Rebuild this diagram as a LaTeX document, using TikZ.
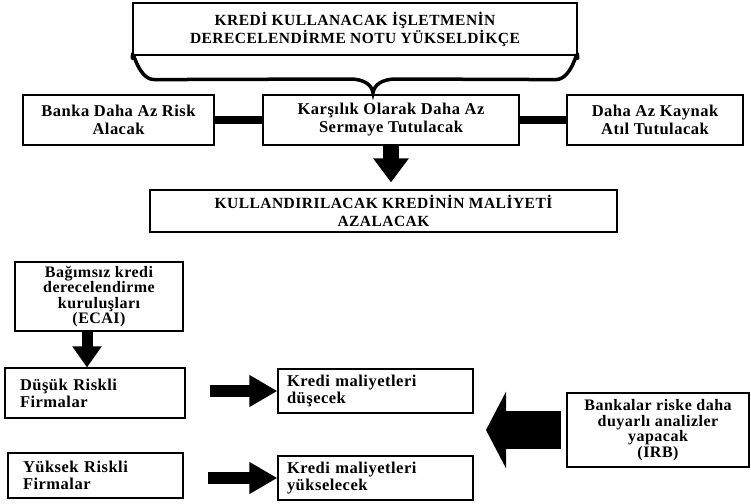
\documentclass[tikz,border=0pt]{standalone}
\usepackage{fontspec}
\setmainfont{Liberation Serif}[LetterSpace=3]
\usepackage{tikz}
\usetikzlibrary{arrows.meta}
\tikzstyle{block} = [rectangle, draw, line width=1.2pt, inner sep=0pt, align=center,
    font=\fontsize{16.5}{18}\selectfont\bfseries]
\tikzstyle{capsblock} = [block, font=\fontsize{15.5}{18}\selectfont\bfseries]
\tikzstyle{smallblock} = [block, font=\fontsize{16}{15.5}\selectfont\bfseries]
\tikzstyle{leftblock} = [block, align=left, font=\fontsize{16.5}{17}\selectfont\bfseries]
\tikzstyle{bar} = [draw, line width=8pt]
\tikzstyle{brace} = [draw, line width=3.5pt, line cap=round]
\tikzstyle{arrow} = [draw, line width=16pt, -{Triangle[width=34pt,length=24pt]}]
\tikzstyle{thinarrow} = [draw, line width=12pt, -{Triangle[width=30pt,length=28pt]}]

\begin{document}
\begin{tikzpicture}[x=1pt, y=-1pt]
			\useasboundingbox (0,0) rectangle (751,503);
			% Place nodes
			\node [capsblock, minimum width=444pt, minimum height=52pt] (notu) at (355,29) {KRED\.I KULLANACAK \.IŞLETMEN\.IN\\DERECELEND\.IRME NOTU YÜKSELD\.IKÇE};
			\node [block, minimum width=191pt, minimum height=50pt] (banka) at (118.5,120) {Banka Daha Az Risk\\Alacak};
			\node [block, minimum width=256pt, minimum height=50pt] (karsilik) at (391,120) {Karşılık Olarak Daha Az\\Sermaye Tutulacak};
			\node [block, minimum width=176pt, minimum height=50pt] (kaynak) at (655,120) {Daha Az Kaynak\\Atıl Tutulacak};
			\node [capsblock, minimum width=467pt, minimum height=42pt] (maliyet) at (383.5,211) {KULLANDIRILACAK KRED\.IN\.IN MAL\.IYET\.I\\AZALACAK};
			\node [smallblock, minimum width=168pt, minimum height=69pt] (ecai) at (99,296.5) {Bağımsız kredi\\derecelendirme\\kuruluşları\\(ECAI)};
			\node [leftblock, text width=150pt, inner xsep=15pt, minimum height=50pt] (dusuk) at (95,393) {Düşük Riskli\\Firmalar};
			\node [leftblock, text width=145pt, inner xsep=15pt, minimum height=45pt] (yuksek) at (95.5,475.5) {Yüksek Riskli\\Firmalar};
			\node [leftblock, text width=177pt, inner xsep=9pt, minimum height=44pt] (dusecek) at (375.5,391) {Kredi maliyetleri\\düşecek};
			\node [leftblock, text width=177pt, inner xsep=9pt, minimum height=44pt] (yukselecek) at (375.5,478) {Kredi maliyetleri\\yükselecek};
			\node [smallblock, minimum width=182pt, minimum height=74pt] (irb) at (658,430) {Bankalar riske daha\\duyarlı analizler\\yapacak\\(IRB)};
			\coordinate (irbtip) at (486,430);
			%
			\path [brace] ([yshift=-3pt]notu.south west) .. controls +(0,-16) and +(-18,0) .. ([xshift=22pt,yshift=-24pt]notu.south west)
				-- (350,79) .. controls (364,79) and (372,85) .. (373,93) .. controls (374,85) and (382,79) .. (396,79)
				-- ([xshift=-22pt,yshift=-24pt]notu.south east) .. controls +(18,0) and +(0,-16) .. ([yshift=-3pt]notu.south east);
			\path [bar] (banka) -- (karsilik);
			\path [bar] (karsilik) -- (kaynak);
			\path [arrow, shorten >=7pt] (karsilik) -- (karsilik |- maliyet.north);
			\path [draw, line width=11pt, -{Triangle[width=28pt,length=21pt]}] ([xshift=-12pt]ecai.south) -- ([xshift=-8pt]dusuk.north);
			\path [thinarrow, shorten <=24pt] (dusuk.east |- dusecek.west) -- (dusecek.west);
			\path [thinarrow, shorten <=24pt] (yuksek.east |- yukselecek.west) -- (yukselecek.west);
			\path [draw, line width=38pt, shorten <=5pt, -{Triangle[width=76pt,length=20pt]}] (irb.west) -- (irbtip);
	\end{tikzpicture}
\end{document}
